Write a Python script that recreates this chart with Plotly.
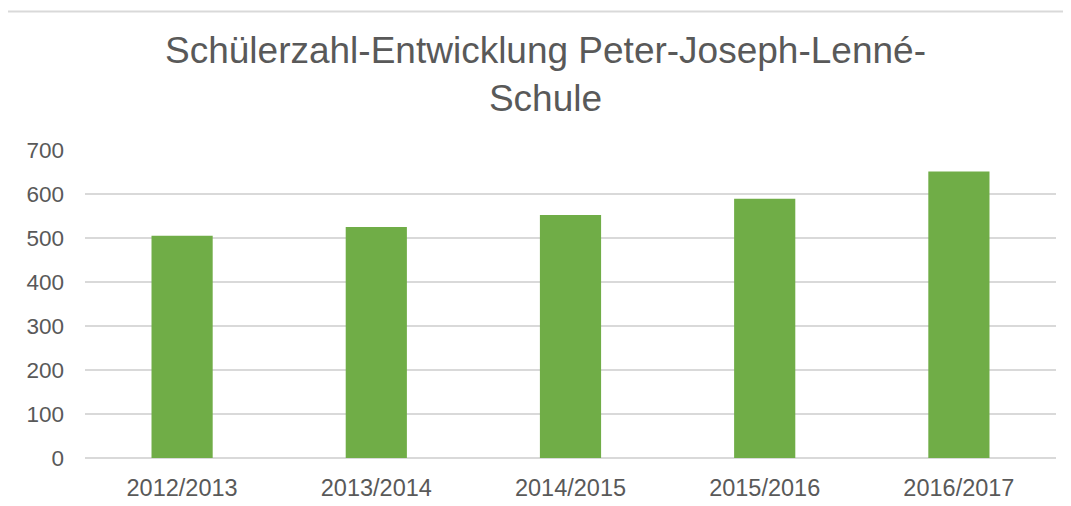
import plotly.graph_objects as go

categories = ["2012/2013", "2013/2014", "2014/2015", "2015/2016", "2016/2017"]
students = [505, 525, 552, 589, 651]
y_ticks = [0, 100, 200, 300, 400, 500, 600, 700]
title_text = "Schülerzahl-Entwicklung Peter-Joseph-Lenné-<br>Schule"

# page is rendered with an 8px body margin -> figure is 8px smaller
W, H = 1063, 498
L, R, T, B = 77, 15, 142, 48
PW, PH = W - L - R, H - T - B

def px(x):
    return (x - L) / PW

def py(y):
    return (H - B - y) / PH

GRID = "#d9d9d9"
TXT = "#595959"
FONT = "Liberation Sans, Arial, sans-serif"

fig = go.Figure(
    go.Bar(
        x=categories,
        y=students,
        marker=dict(color="#70ad47", line=dict(width=0)),
        width=0.315,
    )
)

shapes = [
    dict(type="line", xref="paper", yref="paper",
         x0=px(-2), x1=px(W + 5), y0=py(3.5), y1=py(3.5),
         line=dict(color=GRID, width=2)),
]

fig.update_layout(
    width=W, height=H,
    margin=dict(l=L, r=R, t=T, b=B, autoexpand=False),
    paper_bgcolor="white", plot_bgcolor="white",
    showlegend=False,
    font=dict(family=FONT, color=TXT),
    bargap=0.685,
    shapes=shapes,
    annotations=[dict(text=title_text, xref="paper", yref="paper",
                      x=px(537.5), xanchor="center", y=py(20), yanchor="top",
                      showarrow=False, align="center",
                      font=dict(family=FONT, size=37, color=TXT))],
)
fig.update_xaxes(showgrid=False, showline=False, zeroline=False, ticks="",
                 tickfont=dict(family=FONT, size=23.5, color=TXT),
                 ticklabelstandoff=13)
fig.update_yaxes(range=[0, 700], tickvals=y_ticks, showgrid=True, gridcolor=GRID,
                 gridwidth=2, zeroline=True, zerolinecolor=GRID, zerolinewidth=2,
                 showline=False, ticks="",
                 tickfont=dict(family=FONT, size=22.5, color=TXT),
                 ticklabelstandoff=20)

fig.write_html("out.html")
